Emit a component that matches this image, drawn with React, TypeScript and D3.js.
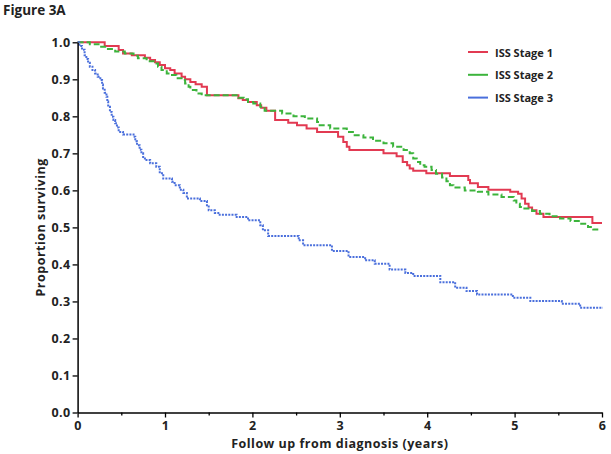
import React, { useEffect, useRef } from "react";
import * as d3 from "d3";

const stage1Times = [0, 0.31, 0.47, 0.52, 0.62, 0.77, 0.83, 0.886, 0.94, 1.0, 1.06, 1.11, 1.19, 1.23, 1.29, 1.35, 1.42, 1.48, 1.84, 1.89, 1.95, 2.05, 2.1, 2.16, 2.26, 2.41, 2.51, 2.62, 2.74, 2.98, 3.04, 3.08, 3.11, 3.5, 3.65, 3.72, 3.77, 3.8, 3.84, 3.99, 4.26, 4.47, 4.49, 4.58, 4.7, 4.95, 5.04, 5.08, 5.12, 5.16, 5.2, 5.25, 5.33, 5.89, 6.0];
const stage1Surv = [1.0, 0.99, 0.979, 0.97, 0.965, 0.958, 0.952, 0.946, 0.939, 0.93, 0.925, 0.916, 0.907, 0.9, 0.893, 0.887, 0.88, 0.857, 0.849, 0.844, 0.839, 0.83, 0.823, 0.815, 0.79, 0.783, 0.776, 0.767, 0.758, 0.745, 0.731, 0.718, 0.709, 0.7, 0.692, 0.677, 0.668, 0.659, 0.653, 0.646, 0.639, 0.628, 0.619, 0.609, 0.602, 0.596, 0.591, 0.578, 0.564, 0.554, 0.546, 0.537, 0.528, 0.512, 0.512];

const stage2Times = [0, 0.14, 0.24, 0.33, 0.43, 0.54, 0.64, 0.69, 0.79, 0.87, 0.92, 0.96, 1.02, 1.08, 1.13, 1.19, 1.23, 1.27, 1.29, 1.36, 1.42, 1.84, 1.9, 1.95, 2.01, 2.09, 2.14, 2.34, 2.47, 2.6, 2.74, 2.77, 2.89, 3.08, 3.15, 3.27, 3.38, 3.5, 3.61, 3.73, 3.8, 3.84, 3.88, 3.92, 3.97, 4.05, 4.1, 4.17, 4.22, 4.26, 4.3, 4.43, 4.58, 4.7, 4.85, 4.99, 5.02, 5.06, 5.1, 5.2, 5.29, 5.4, 5.52, 5.64, 5.75, 5.84, 5.9, 5.98];
const stage2Surv = [1.0, 0.995, 0.988, 0.982, 0.975, 0.97, 0.964, 0.957, 0.949, 0.943, 0.934, 0.925, 0.916, 0.912, 0.903, 0.898, 0.889, 0.88, 0.871, 0.862, 0.857, 0.85, 0.846, 0.839, 0.835, 0.826, 0.815, 0.808, 0.8, 0.794, 0.785, 0.776, 0.767, 0.758, 0.749, 0.743, 0.734, 0.727, 0.718, 0.709, 0.7, 0.686, 0.677, 0.668, 0.664, 0.655, 0.645, 0.635, 0.625, 0.614, 0.608, 0.6, 0.596, 0.589, 0.582, 0.573, 0.564, 0.555, 0.551, 0.544, 0.537, 0.53, 0.524, 0.517, 0.51, 0.501, 0.494, 0.494];

const stage3Times = [0, 0.02, 0.05, 0.08, 0.1, 0.12, 0.14, 0.17, 0.2, 0.23, 0.26, 0.28, 0.29, 0.31, 0.33, 0.34, 0.35, 0.37, 0.39, 0.41, 0.43, 0.45, 0.47, 0.52, 0.64, 0.66, 0.68, 0.71, 0.73, 0.75, 0.77, 0.83, 0.9, 0.94, 0.98, 1.08, 1.11, 1.17, 1.21, 1.25, 1.4, 1.48, 1.5, 1.57, 1.61, 1.82, 1.95, 2.09, 2.12, 2.18, 2.53, 2.58, 2.91, 3.1, 3.29, 3.4, 3.57, 3.75, 3.84, 4.15, 4.32, 4.45, 4.57, 4.98, 5.18, 5.54, 5.75, 6.01];
const stage3Surv = [1.0, 0.99, 0.98, 0.965, 0.955, 0.945, 0.934, 0.925, 0.916, 0.907, 0.898, 0.886, 0.875, 0.864, 0.853, 0.84, 0.826, 0.812, 0.799, 0.79, 0.781, 0.77, 0.758, 0.751, 0.745, 0.733, 0.722, 0.71, 0.7, 0.69, 0.682, 0.673, 0.664, 0.646, 0.632, 0.623, 0.614, 0.602, 0.593, 0.578, 0.571, 0.56, 0.546, 0.539, 0.534, 0.528, 0.519, 0.506, 0.492, 0.477, 0.465, 0.452, 0.436, 0.42, 0.411, 0.402, 0.386, 0.377, 0.369, 0.352, 0.337, 0.328, 0.319, 0.31, 0.301, 0.294, 0.283, 0.283];

const seriesNames = ["ISS Stage 1", "ISS Stage 2", "ISS Stage 3"];
const yTickValues = [0, 0.1, 0.2, 0.3, 0.4, 0.5, 0.6, 0.7, 0.8, 0.9, 1.0];
const xTickValues = [0, 1, 2, 3, 4, 5, 6];
const xMinorTickValues = [0.5, 1.5, 2.5, 3.5, 4.5, 5.5];

const colors = ["#e23a52", "#3cb43c", "#4a6fdc"];
const dashes = ["none", "6,3", "2,1.2"];
const FONT = "'Open Sans', Lato, sans-serif";

export default function App() {
  const xAxisRef = useRef<SVGGElement>(null);
  const xMinorRef = useRef<SVGGElement>(null);
  const yAxisRef = useRef<SVGGElement>(null);

  const x = d3.scaleLinear().domain([0, 6]).range([77.6, 602]);
  const y = d3.scaleLinear().domain([0, 1]).range([412.5, 42.3]);

  const series = [
    { times: stage1Times, surv: stage1Surv },
    { times: stage2Times, surv: stage2Surv },
    { times: stage3Times, surv: stage3Surv },
  ];

  const line = d3
    .line<[number, number]>()
    .x((d) => x(d[0]))
    .y((d) => y(d[1]))
    .curve(d3.curveStepAfter);

  useEffect(() => {
    const style = (g: d3.Selection<SVGGElement, unknown, null, undefined>) => {
      g.selectAll(".domain").attr("stroke", "#000").attr("stroke-width", 1.5);
      g.selectAll(".tick line").attr("stroke", "#000").attr("stroke-width", 1.3);
      g.selectAll(".tick text")
        .attr("fill", "#222")
        .style("font-family", FONT)
        .style("font-weight", "bold")
        .style("font-size", "12.5px")
        .style("letter-spacing", "0.4px");
    };
    const gx = d3.select(xAxisRef.current!);
    gx.call(
      d3.axisBottom(x).tickValues(xTickValues).tickFormat(d3.format("d")).tickSize(5).tickSizeOuter(0).tickPadding(4)
    );
    style(gx);
    const gm = d3.select(xMinorRef.current!);
    gm.call(d3.axisBottom(x).tickValues(xMinorTickValues).tickFormat(() => "").tickSize(3).tickSizeOuter(0));
    gm.select(".domain").remove();
    style(gm);
    const gy = d3.select(yAxisRef.current!);
    gy.call(
      d3.axisLeft(y).tickValues(yTickValues).tickFormat(d3.format(".1f")).tickSize(5).tickSizeOuter(0).tickPadding(2)
    );
    style(gy);
  }, []);

  return (
    <svg
      width={611}
      height={454}
      style={{ position: "absolute", left: 0, top: 0, background: "#fff", display: "block" }}
    >
      <text x={3} y={15} fontFamily={FONT} fontWeight="bold" fontSize={13.5} fill="#222">
        Figure 3A
      </text>
      {series.map((s, i) => (
        <path
          key={i}
          d={line(s.times.map((t, j) => [t, s.surv[j]] as [number, number])) || ""}
          fill="none"
          stroke={colors[i]}
          strokeWidth={2}
          strokeDasharray={dashes[i]}
        />
      ))}
      <g ref={xMinorRef} transform={`translate(0,${y(0)})`} />
      <g ref={xAxisRef} transform={`translate(0,${y(0)})`} />
      <g ref={yAxisRef} transform={`translate(${x(0)},0)`} />
      <text
        x={(x(0) + x(6)) / 2}
        y={447.5}
        textAnchor="middle"
        fontFamily={FONT}
        fontWeight="bold"
        fontSize={12.5}
        letterSpacing={0.5}
        fill="#222"
      >
        Follow up from diagnosis (years)
      </text>
      <text
        transform={`translate(44.5,${(y(0) + y(1)) / 2}) rotate(-90)`}
        textAnchor="middle"
        fontFamily={FONT}
        fontWeight="bold"
        fontSize={12.5}
        letterSpacing={0.5}
        fill="#222"
      >
        Proportion surviving
      </text>
      {seriesNames.map((name, i) => (
        <g key={name} transform={`translate(468,${52 + i * 22.8})`}>
          <line x1={0} x2={20} y1={0} y2={0} stroke={colors[i]} strokeWidth={2} />
          <text x={27} y={4.5} fontFamily={FONT} fontWeight="bold" fontSize={11} fill="#222">
            {name}
          </text>
        </g>
      ))}
    </svg>
  );
}
